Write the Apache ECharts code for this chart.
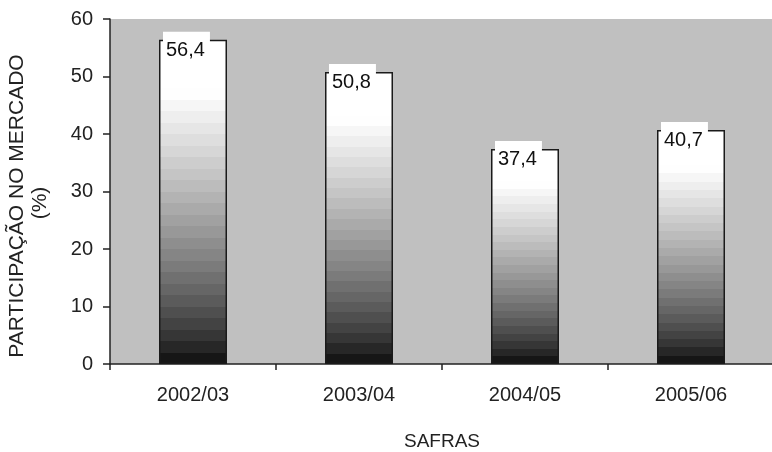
<!DOCTYPE html>
<html>
<head>
<meta charset="utf-8">
<script src="https://cdn.jsdelivr.net/npm/echarts@6/dist/echarts.min.js"></script>
<style>
  html, body { margin: 0; padding: 0; background: #fff; }
  #chart { width: 772px; height: 452px; }
</style>
</head>
<body>
<div id="chart"></div>
<script>
// Market share by crop season
const safras = ['2002/03', '2003/04', '2004/05', '2005/06'];
const participacao = [56.4, 50.8, 37.4, 40.7];
const yTicks = [0, 10, 20, 30, 40, 50, 60];

const FONT = '"Liberation Sans", Arial, sans-serif';

// Banded white-to-black fill, as in the stepped gradient of the bars
function bandedStops() {
  const stops = [{ offset: 0, color: '#ffffff' }, { offset: 0.15, color: '#ffffff' }];
  const n = 24;
  for (let i = 0; i < n; i++) {
    const a = 0.15 + 0.85 * i / n;
    const b = 0.15 + 0.85 * (i + 1) / n;
    const s = (i + 0.5) / n;
    const v = Math.round(250 * Math.pow(1 - s, 0.75)) + 8;
    const c = 'rgb(' + v + ',' + v + ',' + v + ')';
    stops.push({ offset: a, color: c });
    stops.push({ offset: b, color: c });
  }
  return stops;
}

const chart = echarts.init(document.getElementById('chart'), null, { renderer: 'canvas' });

chart.setOption({
  animation: false,
  backgroundColor: '#ffffff',
  grid: {
    left: 110, right: -2, top: 19, bottom: 88,
    outerBoundsMode: 'none',
    containLabel: false,
    show: true, backgroundColor: '#c0c0c0', borderWidth: 0
  },
  xAxis: {
    type: 'category',
    data: safras,
    boundaryGap: true,
    name: 'SAFRAS',
    nameLocation: 'middle',
    nameGap: 68,
    nameTextStyle: { fontFamily: FONT, fontSize: 19, color: '#222' },
    axisLine: { show: true, lineStyle: { color: '#222', width: 1.5 } },
    axisTick: { show: true, alignWithLabel: false, length: 6, lineStyle: { color: '#222', width: 1.5 } },
    axisLabel: { fontFamily: FONT, fontSize: 20, color: '#222', margin: 21 },
    splitLine: { show: false }
  },
  yAxis: {
    type: 'value',
    min: yTicks[0],
    max: yTicks[yTicks.length - 1],
    interval: 10,
    axisLine: { show: true, lineStyle: { color: '#222', width: 1.5 } },
    axisTick: { show: true, length: 7, lineStyle: { color: '#222', width: 1.5 } },
    axisLabel: { fontFamily: FONT, fontSize: 20, color: '#222', margin: 17 },
    splitLine: { show: false }
  },
  graphic: [
    {
      type: 'text', x: 17, y: 206, rotation: Math.PI / 2,
      style: {
        text: 'PARTICIPAÇÃO NO MERCADO', font: '21px ' + FONT, fill: '#222',
        textAlign: 'center', textVerticalAlign: 'middle'
      }
    },
    {
      type: 'text', x: 40, y: 203, rotation: Math.PI / 2,
      style: {
        text: '(%)', font: '21px ' + FONT, fill: '#222',
        textAlign: 'center', textVerticalAlign: 'middle'
      }
    }
  ],
  series: [{
    type: 'bar',
    data: participacao,
    barWidth: 68,
    itemStyle: {
      color: { type: 'linear', x: 0, y: 0, x2: 0, y2: 1, colorStops: bandedStops() },
      borderColor: '#1a1a1a',
      borderWidth: 1.5
    },
    label: {
      show: true,
      position: 'insideTopLeft',
      distance: 0,
      offset: [4, -8],
      formatter: p => String(p.value).replace('.', ','),
      fontFamily: FONT,
      fontSize: 20,
      color: '#111',
      backgroundColor: '#ffffff',
      padding: [9, 5, 6, 3]
    }
  }]
});
</script>
</body>
</html>
